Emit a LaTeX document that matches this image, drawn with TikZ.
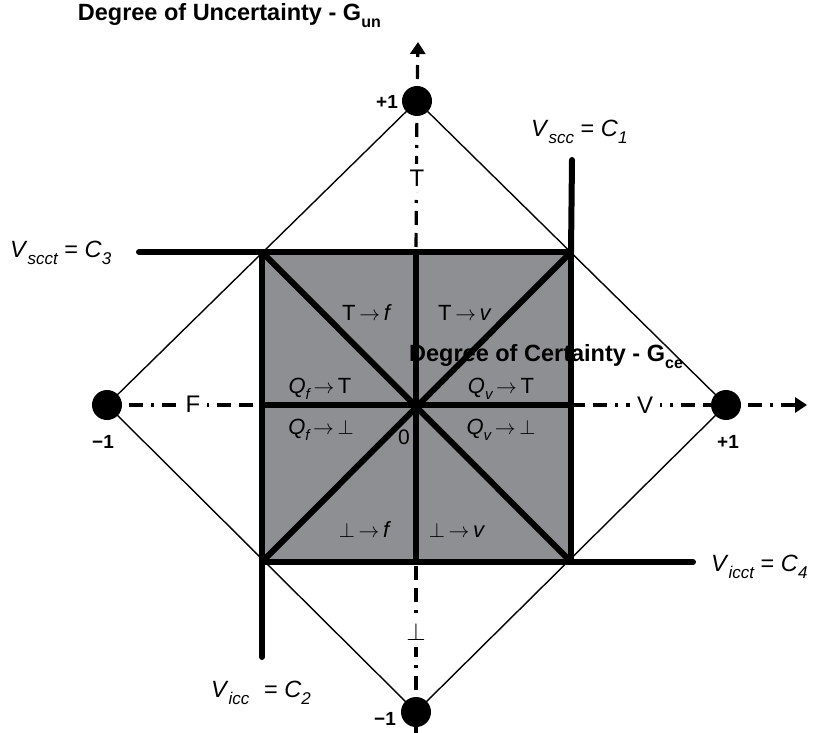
\documentclass[tikz,border=0pt]{standalone}
\usepackage{fontspec}
\setmainfont{Liberation Sans}
\usetikzlibrary{arrows.meta}
\definecolor{sqgray}{RGB}{142,143,147}
\newcommand{\lsub}[1]{\raisebox{-0.3em}{\fontsize{17}{17}\selectfont\itshape #1}}
\newcommand{\qsub}[1]{\raisebox{-0.3em}{\fontsize{15}{15}\selectfont\itshape #1}}
\newcommand{\tsub}[1]{\raisebox{-0.3em}{\fontsize{16}{16}\selectfont\bfseries #1}}
\newcommand{\arr}{\,$\rightarrow$\,}
\begin{document}
\begin{tikzpicture}[x=1pt,y=-1pt,
  thinline/.style={line width=1.4pt},
  thickline/.style={line width=6pt},
  extline/.style={line width=6pt, line cap=round},
  axisline/.style={line width=3.2pt, dash pattern=on 14pt off 8pt on 14pt off 8pt on 3pt off 8pt},
  axistip/.style={-{Triangle[length=12pt,width=15pt]}},
  dotnode/.style={circle, fill=black, minimum size=30pt, inner sep=0pt},
  title/.style={font=\fontsize{23.5}{23.5}\selectfont\bfseries, inner sep=0pt},
  vlbl/.style={font=\fontsize{23.5}{23.5}\selectfont, inner sep=0pt},
  axlbl/.style={font=\fontsize{24}{24}\selectfont, fill=white, inner xsep=7pt, inner ysep=6pt},
  numlbl/.style={font=\fontsize{19}{19}\selectfont\bfseries, inner sep=0pt},
  inlbl/.style={font=\fontsize{22}{22}\selectfont, inner sep=0pt}
]
\useasboundingbox (0,0) rectangle (817,733);

% key points
\coordinate (O) at (416,405);
\coordinate (TL) at (262,252);
\coordinate (TR) at (571,252);
\coordinate (BR) at (571,562);
\coordinate (BL) at (262,562);
\coordinate (Tm) at (416,252);
\coordinate (Bm) at (416,562);
\coordinate (Lm) at (262,405);
\coordinate (Rm) at (571,405);
\coordinate (ytip) at (418,42);
\coordinate (ybot) at (416,740);
\coordinate (xtip) at (807,405);
\coordinate (c1end) at (572,160);
\coordinate (c3end) at (139,252);
\coordinate (c4end) at (693,562);
\coordinate (c2end) at (262,657);

\coordinate (ptop) at (417,101);
\coordinate (pbot) at (416,712);
\coordinate (pleft) at (107,405);
\coordinate (pright) at (726,405);

% gray square
\fill[sqgray] (TL) rectangle (BR);

% axes
\draw[axisline] (ybot) -- (pbot);
\draw[axisline] (pbot) -- (Bm);
\draw[axisline] (ptop) -- (Tm);
\draw[axisline, axistip] (ptop) -- (ytip);
\draw[axisline] (pleft) -- (Lm);
\draw[axisline] (Rm) -- (pright);
\draw[axisline, axistip] (pright) -- (xtip);

% diamond
\draw[thinline] (ptop) -- (pright) -- (pbot) -- (pleft) -- cycle;

% thick square structure
\draw[thickline] (TL) rectangle (BR);
\draw[thickline] (Lm) -- (Rm);
\draw[thickline] (Tm) -- (Bm);
\draw[thickline] (TL) -- (BR);
\draw[thickline] (TR) -- (BL);

% extension lines
\draw[extline] (TR) -- (c1end);
\draw[extline] (TL) -- (c3end);
\draw[extline] (BR) -- (c4end);
\draw[extline] (BL) -- (c2end);

% dots
\node[dotnode] (top) at (ptop) {};
\node[dotnode] (bot) at (pbot) {};
\node[dotnode] (left) at (pleft) {};
\node[dotnode] (right) at (pright) {};

% axis letters
\node[axlbl] (lT) at (417,178) {T};
\node[axlbl] (lF) at (193,404) {F};
\node[axlbl] (lV) at (645,405) {V};
\node[axlbl] (lP) at (416,632) {$\perp$};

% titles
\node[title, anchor=east] (gun) at (381,16) {Degree of Uncertainty - G\tsub{un}};
\node[title, anchor=west] (gce) at (409,357) {Degree of Certainty - G\tsub{ce}};

% numbers
\node[numlbl] (n1) at (387,102) {+1};
\node[numlbl] (n2) at (103,442) {−1};
\node[numlbl] (n3) at (728,442) {+1};
\node[numlbl] (n4) at (385,719) {−1};
\node[numlbl, font=\fontsize{21}{21}\selectfont] (n0) at (404,437) {0};

% constraint labels
\node[vlbl, anchor=west] (C1) at (531,132) {\textit{V}\lsub{scc} = \textit{C}\lsub{1}};
\node[vlbl, anchor=west] (C3) at (10,253) {\textit{V}\lsub{scct} = \textit{C}\lsub{3}};
\node[vlbl, anchor=west] (C4) at (711,567) {\textit{V}\lsub{icct} = \textit{C}\lsub{4}};
\node[vlbl, anchor=west] (C2) at (211,693) {\textit{V}\lsub{icc}\hspace{8pt} = \textit{C}\lsub{2}};

% inner region labels
\node[inlbl] (r1) at (367,313) {T\arr\textit{f}};
\node[inlbl] (r2) at (465,313) {T\arr\textit{v}};
\node[inlbl] (r3) at (320,389) {\textit{Q}\qsub{f}\arr T};
\node[inlbl] (r4) at (321,430) {\textit{Q}\qsub{f}\arr$\perp$};
\node[inlbl] (r5) at (501,389) {\textit{Q}\qsub{v}\arr T};
\node[inlbl] (r6) at (501,430) {\textit{Q}\qsub{v}\arr$\perp$};
\node[inlbl] (r7) at (365,530) {$\perp$\arr\textit{f}};
\node[inlbl] (r8) at (457,530) {$\perp$\arr\textit{v}};
\end{tikzpicture}
\end{document}
